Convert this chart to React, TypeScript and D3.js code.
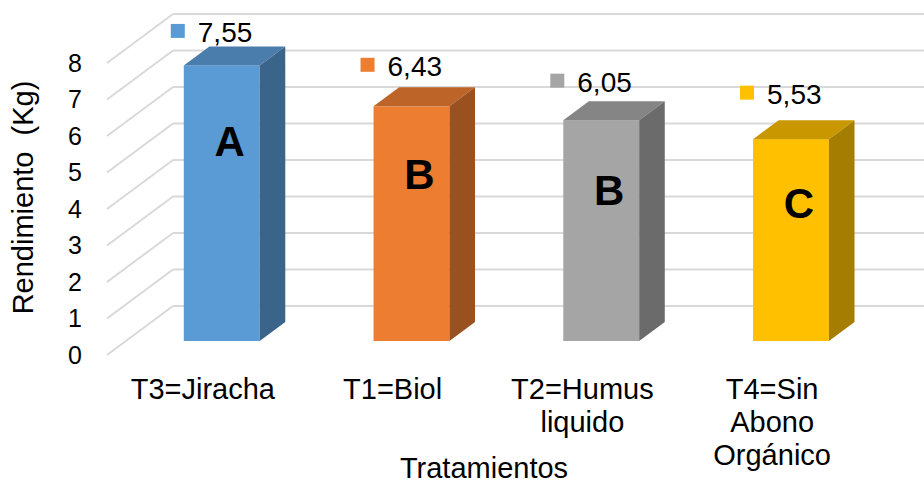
import React from "react";
import * as d3 from "d3";

// Rendimiento por tratamiento
const categoryLines: string[][] = [
  ["T3=Jiracha"],
  ["T1=Biol"],
  ["T2=Humus", "liquido"],
  ["T4=Sin", "Abono", "Orgánico"],
];
const values: number[] = [7.55, 6.43, 6.05, 5.53];
const valueLabels: string[] = ["7,55", "6,43", "6,05", "5,53"];
const groups: string[] = ["A", "B", "B", "C"];
const yTicks: number[] = [0, 1, 2, 3, 4, 5, 6, 7, 8];
const yTitle = "Rendimiento  (Kg)";
const xTitle = "Tratamientos";

// colours per bar: front, top, side
const fronts = ["#5B9BD5", "#ED7D31", "#A5A5A5", "#FFC000"];
const tops = ["#4A7DAB", "#BD6428", "#858585", "#C99800"];
const sides = ["#3B648A", "#98511F", "#6B6B6B", "#A57D00"];

// per-label vertical lift above the bar top (px)
const labelLift = [23, 30, 28, 35];
// how far below the bar top (in axis units) each group letter sits
const letterDrop = [2.07, 1.85, 1.91, 1.75];

const W = 924;
const H = 484;
const FONT = "'Liberation Sans', Arial, Helvetica, sans-serif";

// 3D depth vector from front plane (d=0) to back wall (d=1)
const DX = 66;
const DY = -49;
const WALL_X = 107;
const BAR_D0 = 14 / 49;
const BAR_D1 = 33 / 49;

export default function App() {
  const y = d3.scaleLinear().domain([0, 8]).range([355, 63]);
  const x = d3
    .scaleBand<number>()
    .domain(values.map((_, i) => i))
    .range([108, 867])
    .paddingInner(0.6)
    .paddingOuter(0.3);
  const bw = x.bandwidth();
  const bdx = (BAR_D1 - BAR_D0) * DX;
  const bdy = (BAR_D1 - BAR_D0) * DY;

  const pt = (px: number, v: number, d: number): [number, number] => [
    px + d * DX,
    y(v) + d * DY,
  ];
  const poly = (ps: [number, number][]) => ps.map((p) => p.join(",")).join(" ");

  return (
    <svg
      width={W}
      height={H}
      style={{ position: "absolute", left: 0, top: 0, background: "#fff" }}
      fontFamily={FONT}
    >
      {/* wall gridlines */}
      <g stroke="#D9D9D9" strokeWidth={2} fill="none">
        {yTicks.map((t) => {
          const a = pt(WALL_X, t, 0);
          const b = pt(WALL_X, t, 1);
          return (
            <g key={t}>
              <line x1={a[0]} y1={a[1]} x2={b[0]} y2={b[1]} />
              <line x1={b[0]} y1={b[1]} x2={W + 10} y2={b[1]} />
            </g>
          );
        })}
      </g>

      {/* y tick labels */}
      <g fontSize={25} fill="#000" textAnchor="end">
        {yTicks.map((t) => (
          <text key={t} x={82} y={y(t)} dy="0.35em">
            {t}
          </text>
        ))}
      </g>

      {/* bars */}
      {values.map((v, i) => {
        const x0 = (x(i) as number) + BAR_D0 * DX;
        const yb = y(0) + BAR_D0 * DY;
        const yt = y(v) + BAR_D0 * DY;
        const x1 = x0 + bw;
        return (
          <g key={i}>
            <rect x={x0} y={yt} width={bw} height={yb - yt} fill={fronts[i]} />
            <polygon
              points={poly([
                [x0, yt],
                [x0 + bdx, yt + bdy],
                [x1 + bdx, yt + bdy],
                [x1, yt],
              ])}
              fill={tops[i]}
            />
            <polygon
              points={poly([
                [x1, yt],
                [x1 + bdx, yt + bdy],
                [x1 + bdx, yb + bdy],
                [x1, yb],
              ])}
              fill={sides[i]}
            />
            <text
              x={x0 + bw / 2 + 8}
              y={y(v - letterDrop[i]) + BAR_D0 * DY}
              dy="0.36em"
              textAnchor="middle"
              fontSize={42}
              fontWeight="bold"
              fill="#000"
            >
              {groups[i]}
            </text>
            {/* data label with legend key */}
            <rect
              x={x0 - 13}
              y={yt - labelLift[i] - 11.5 - 7}
              width={14}
              height={14}
              fill={fronts[i]}
            />
            <text x={x0 + 14} y={yt - labelLift[i]} fontSize={28} fill="#000">
              {valueLabels[i]}
            </text>
          </g>
        );
      })}

      {/* category labels */}
      <g fontSize={29} fill="#000" textAnchor="middle">
        {categoryLines.map((lines, i) => (
          <text key={i} x={(x(i) as number) + bw / 2} y={399}>
            {lines.map((l, j) => (
              <tspan key={j} x={(x(i) as number) + bw / 2} dy={j === 0 ? 0 : 33}>
                {l}
              </tspan>
            ))}
          </text>
        ))}
      </g>

      {/* axis titles */}
      <text x={484} y={478} fontSize={29} textAnchor="middle" fill="#000">
        {xTitle}
      </text>
      <text
        transform={`translate(33,${197.5}) rotate(-90)`}
        fontSize={29}
        textAnchor="middle"
        fill="#000"
        style={{ whiteSpace: "pre" }}
      >
        {yTitle}
      </text>
    </svg>
  );
}
